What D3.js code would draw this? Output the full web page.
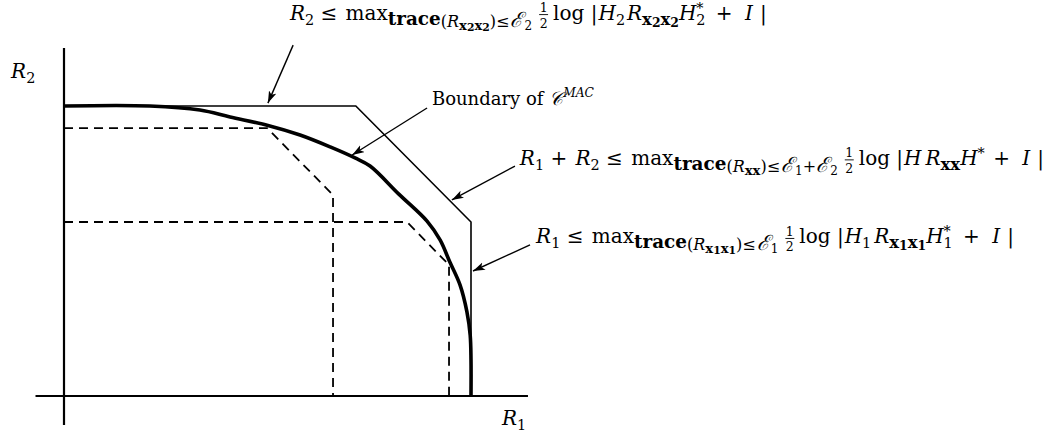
<!DOCTYPE html>
<html>
<head>
<meta charset="utf-8">
<script src="https://cdn.jsdelivr.net/npm/d3@7"></script>
<style>
  html, body { margin: 0; padding: 0; background: #fff; }
  svg { display: block; }
  text { font-family: "DejaVu Serif", "Liberation Serif", serif; fill: #000; }
</style>
</head>
<body>
<svg id="chart" width="1050" height="433"></svg>
<script>
// Rate region of a two-user MIMO multiple-access channel (rate units, R1 and R2).
const axisExtentR1 = [-0.7, 11.4];
const axisExtentR2 = [-1.0, 12.0];

// Pentagon bounded by the single-user and sum-rate constraints
const outerPentagon = [[0, 10], [7.17, 10], [10, 6.0], [10, 0]];

// Pentagons for two fixed input covariances (dashed)
const pentagonA = [[0, 9.24], [4.99, 9.24], [6.61, 6.93], [6.61, 0]];
const pentagonB = [[0, 6.0], [8.43, 6.0], [9.46, 4.52], [9.46, 0]];

// Boundary of the capacity region (union of pentagons)
const capacityBoundary = [
  [0, 10], [2.11, 10], [3.34, 9.86], [4.08, 9.62], [4.99, 9.34], [5.80, 9.0],
  [6.54, 8.59], [7.15, 8.21], [7.52, 7.93], [8.22, 6.97], [8.92, 6.03],
  [9.24, 5.38], [9.48, 4.62], [9.73, 3.83], [9.90, 2.90], [9.98, 2.10],
  [10, 1.24], [10, 0]
];

// Annotation arrows: [from, to]
const arrows = [
  [[5.63, 12.1], [5.01, 10.1]],
  [[8.92, 9.93], [7.08, 8.31]],
  [[11.08, 7.93], [9.53, 6.76]],
  [[11.45, 5.21], [10.05, 4.31]]
];

// Text anchors (left, baseline)
const anchorTop = [5.55, 12.98];
const anchorBoundary = [9.04, 10.03];
const anchorSum = [11.2, 7.97];
const anchorR1 = [11.6, 5.26];
const anchorAxisR2 = [-1.3, 10.97];
const anchorAxisR1 = [10.76, -1.0];

const svg = d3.select("#chart");
const x = d3.scaleLinear().domain([0, 10]).range([64, 471]);
const y = d3.scaleLinear().domain([0, 10]).range([396, 106]);

const line = d3.line().x(d => x(d[0])).y(d => y(d[1]));

svg.append("defs").append("marker")
  .attr("id", "head")
  .attr("markerUnits", "userSpaceOnUse")
  .attr("markerWidth", 14).attr("markerHeight", 10)
  .attr("refX", 12).attr("refY", 4)
  .attr("orient", "auto")
  .append("path")
  .attr("d", "M0,0 L12,4 L0,8 L3,4 Z")
  .attr("fill", "#000");

// Axes
svg.append("path")
  .attr("d", line([[axisExtentR1[0], 0], [axisExtentR1[1], 0]]))
  .attr("stroke", "#000").attr("stroke-width", 2.2).attr("fill", "none");
svg.append("path")
  .attr("d", line([[0, axisExtentR2[0]], [0, axisExtentR2[1]]]))
  .attr("stroke", "#000").attr("stroke-width", 2.2).attr("fill", "none");

// Dashed pentagons
[pentagonA, pentagonB].forEach(p => {
  svg.append("path")
    .attr("d", line(p))
    .attr("stroke", "#000").attr("stroke-width", 1.8)
    .attr("stroke-dasharray", "9,6").attr("fill", "none");
});

// Outer pentagon
svg.append("path")
  .attr("d", line(outerPentagon))
  .attr("stroke", "#000").attr("stroke-width", 1.6).attr("fill", "none");

// Capacity region boundary
svg.append("path")
  .attr("d", d3.line().x(d => x(d[0])).y(d => y(d[1])).curve(d3.curveCatmullRom.alpha(0.5))(capacityBoundary))
  .attr("stroke", "#000").attr("stroke-width", 3.6).attr("fill", "none")
  .attr("stroke-linejoin", "round");

// Arrows
arrows.forEach(a => {
  svg.append("path")
    .attr("d", line(a))
    .attr("stroke", "#000").attr("stroke-width", 1.4).attr("fill", "none")
    .attr("marker-end", "url(#head)");
});

// Small typesetter: places runs of text one after another on a baseline
function typeset(sel, pos, items, base) {
  const g = sel.append("g");
  let cx = x(pos[0]);
  const by = y(pos[1]);
  for (const it of items) {
    if (it.frac) {
      const fs = 12.5;
      const a = g.append("text").attr("font-size", fs).attr("text-anchor", "middle").text(it.frac[0]);
      const b = g.append("text").attr("font-size", fs).attr("text-anchor", "middle").text(it.frac[1]);
      const w = Math.max(a.node().getComputedTextLength(), b.node().getComputedTextLength()) + 1;
      const cxm = cx + 7 + w / 2;
      a.attr("x", cxm).attr("y", by - 7.5);
      b.attr("x", cxm).attr("y", by + 8);
      g.append("line").attr("x1", cx + 7).attr("x2", cx + 7 + w)
        .attr("y1", by - 5).attr("y2", by - 5)
        .attr("stroke", "#000").attr("stroke-width", 0.9);
      cx += w + 12;
      continue;
    }
    if (it.stack) {
      // superscript and subscript stacked in one text element
      const fs = base * 0.72;
      const t = g.append("text").attr("font-size", fs);
      const sup = t.append("tspan").attr("x", cx).attr("y", by - 7).text(it.stack[0]);
      const lo = t.append("tspan").attr("x", cx).attr("y", by + 5).text(it.stack[1]);
      cx += Math.max(sup.node().getComputedTextLength(), lo.node().getComputedTextLength()) + (it.sp || 0);
      continue;
    }
    const t = g.append("text")
      .attr("x", cx + (it.dx || 0))
      .attr("y", by + (it.dy || 0))
      .attr("font-size", base * (it.s || 1))
      .attr("font-style", it.i ? "italic" : "normal")
      .attr("font-weight", it.b ? "bold" : "normal")
      .attr("xml:space", "preserve")
      .text(it.t);
    cx += t.node().getComputedTextLength() + (it.dx || 0) + (it.sp || 0);
  }
  return g;
}

const base = 20;
const sub = (t, sp) => ({ t, s: 0.72, dy: 5, sp: sp || 0 });
const sub2 = (t) => ({ t, s: 0.6, dy: 10 });
const subR = (t, sp) => ({ t, s: 0.8, dy: 7, sp: sp || 0 });
const subRi = (t, sp) => ({ t, s: 0.8, dy: 7, i: true, sp: sp || 0 });
const calE = { t: "ℰ", s: 1.05, dy: 7, i: true, sp: 1 };
const vecSub = (t) => ({ t, s: 0.66, dy: 10, b: true });
const vecIdx = (t) => ({ t, s: 0.54, dy: 11, b: true });
const mainVec = (t) => ({ t, s: 0.82, dy: 5, b: true });
const mainIdx = (t) => ({ t, s: 0.62, dy: 7, b: true });
const traceSub = { t: "trace", s: 0.92, dy: 5, b: true };
const rel = (t, sp) => ({ t: " " + t + " ", sp: sp === undefined ? 2 : sp });

// R2 <= max_{trace(R_x2x2) <= E2} 1/2 log|H2 R_x2x2 H2* + I|
typeset(svg, anchorTop, [
  { t: "R", i: true }, sub("2"), rel("≤"), { t: "max" }, traceSub,
  subR("("), subRi("R"), vecSub("x"), vecIdx("2"), vecSub("x"), vecIdx("2"),
  subR(")"), subR("≤", 1), calE, sub2("2"),
  { frac: ["1", "2"] },
  { t: "log |", sp: 1 }, { t: "H", i: true }, sub("2", 2), { t: "R", i: true },
  mainVec("x"), mainIdx("2"), mainVec("x"), mainIdx("2"),
  { t: "H", i: true }, { stack: ["*", "2"], sp: 4 },
  rel("+", 6), { t: "I", i: true, sp: 7 }, { t: "|" }
], base);

// Boundary of C^MAC
typeset(svg, anchorBoundary, [
  { t: "Boundary of " }, { t: "𝒞", i: true, s: 1.05 }, { t: "MAC", i: true, s: 0.68, dy: -8 }
], 18);

// R1 + R2 <= max_{trace(Rxx) <= E1+E2} 1/2 log|H Rxx H* + I|
typeset(svg, anchorSum, [
  { t: "R", i: true }, sub("1"), rel("+"), { t: "R", i: true }, sub("2"),
  rel("≤"), { t: "max" }, traceSub,
  subR("("), subRi("R"), vecSub("xx"), subR(")"), subR("≤", 1),
  calE, sub2("1"), subR("+"), calE, sub2("2"),
  { frac: ["1", "2"] },
  { t: "log |", sp: 1 }, { t: "H", i: true, sp: 4 }, { t: "R", i: true },
  mainVec("xx"),
  { t: "H", i: true }, { t: "*", s: 0.72, dy: -7, sp: 2 },
  rel("+", 6), { t: "I", i: true, sp: 7 }, { t: "|" }
], base);

// R1 <= max_{trace(R_x1x1) <= E1} 1/2 log|H1 R_x1x1 H1* + I|
typeset(svg, anchorR1, [
  { t: "R", i: true }, sub("1"), rel("≤"), { t: "max" }, traceSub,
  subR("("), subRi("R"), vecSub("x"), vecIdx("1"), vecSub("x"), vecIdx("1"),
  subR(")"), subR("≤", 1), calE, sub2("1"),
  { frac: ["1", "2"] },
  { t: "log |", sp: 1 }, { t: "H", i: true }, sub("1", 3), { t: "R", i: true },
  mainVec("x"), mainIdx("1"), mainVec("x"), mainIdx("1"),
  { t: "H", i: true }, { stack: ["*", "1"], sp: 4 },
  rel("+", 6), { t: "I", i: true, sp: 7 }, { t: "|" }
], base);

// Axis labels
typeset(svg, anchorAxisR2, [{ t: "R", i: true }, sub("2")], 20);
typeset(svg, anchorAxisR1, [{ t: "R", i: true }, sub("1")], 20);
</script>
</body>
</html>
